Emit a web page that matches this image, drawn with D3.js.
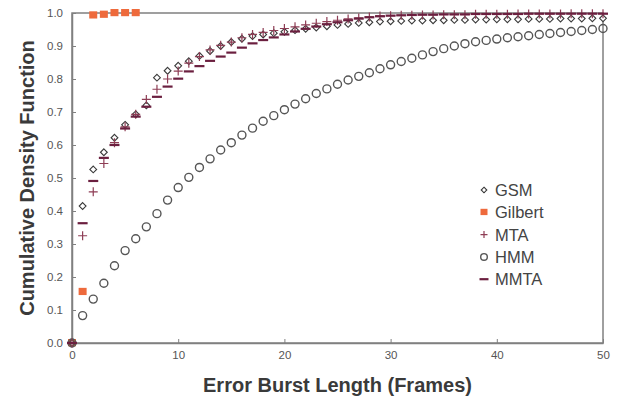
<!DOCTYPE html>
<html>
<head>
<meta charset="utf-8">
<script src="https://cdn.jsdelivr.net/npm/d3@7"></script>
<style>
  body { margin: 0; background: #fff; }
  text { font-family: "Liberation Sans", Arial, Helvetica, sans-serif; }
</style>
</head>
<body>
<svg id="chart" width="619" height="402"></svg>
<script>
const W = 619, H = 402;
const margin = { top: 13, right: 16, bottom: 59, left: 72 };

// data (x = burst length in frames)
const xTicks = [0, 10, 20, 30, 40, 50];
const yTicks = [0, 0.1, 0.2, 0.3, 0.4, 0.5, 0.6, 0.7, 0.8, 0.9, 1.0];

const gsm = [0, 0.415, 0.526, 0.578, 0.622, 0.661, 0.693, 0.720, 0.804, 0.825,
  0.840, 0.854, 0.870, 0.885, 0.900, 0.912, 0.922, 0.930, 0.935, 0.939,
  0.943, 0.948, 0.952, 0.956, 0.960, 0.964, 0.967, 0.970, 0.972, 0.974,
  0.975, 0.976, 0.977, 0.977, 0.978, 0.978, 0.979, 0.979, 0.980, 0.980,
  0.981, 0.981, 0.981, 0.982, 0.982, 0.982, 0.983, 0.983, 0.983, 0.984, 0.984];

const gilbert = [0, 0.155, 0.993, 0.995, 1.0, 1.0, 1.0];

const mta = [0, 0.325, 0.458, 0.544, 0.607, 0.655, 0.693, 0.738, 0.769, 0.800,
  0.824, 0.848, 0.868, 0.888, 0.902, 0.912, 0.925, 0.935, 0.941, 0.947,
  0.953, 0.958, 0.964, 0.969, 0.974, 0.978, 0.982, 0.985, 0.988, 0.991,
  0.992, 0.993, 0.993, 0.994, 0.994, 0.995, 0.995, 0.995, 0.996, 0.996,
  0.996, 0.996, 0.997, 0.997, 0.997, 0.997, 0.997, 0.998, 0.998, 0.998, 0.998];

const hmm = [0, 0.083, 0.133, 0.181, 0.234, 0.280, 0.316, 0.352, 0.392, 0.433,
  0.471, 0.502, 0.532, 0.558, 0.585, 0.607, 0.630, 0.651, 0.672, 0.689,
  0.707, 0.724, 0.740, 0.756, 0.770, 0.784, 0.797, 0.808, 0.819, 0.831,
  0.843, 0.853, 0.863, 0.873, 0.883, 0.892, 0.900, 0.907, 0.913, 0.917,
  0.921, 0.925, 0.928, 0.931, 0.935, 0.938, 0.941, 0.944, 0.947, 0.950, 0.953];

const mmta = [0, 0.363, 0.491, 0.561, 0.600, 0.650, 0.686, 0.716, 0.746, 0.777,
  0.801, 0.823, 0.839, 0.855, 0.868, 0.880, 0.895, 0.908, 0.918, 0.926,
  0.935, 0.944, 0.952, 0.959, 0.966, 0.972, 0.978, 0.983, 0.987, 0.990,
  0.992, 0.993, 0.994, 0.995, 0.995, 0.996, 0.996, 0.996, 0.997, 0.997,
  0.997, 0.997, 0.997, 0.998, 0.998, 0.998, 0.998, 0.998, 0.998, 0.998, 0.998];

const legendNames = ["GSM", "Gilbert", "MTA", "HMM", "MMTA"];

const C_GSM = "#3a3a3a", C_GIL = "#ee6a3c", C_MTA = "#8e3d55",
      C_HMM = "#555555", C_MMTA = "#6b1f3f", C_AXIS = "#808080";

const svg = d3.select("#chart");
const x = d3.scaleLinear().domain([0, 50]).range([margin.left, W - margin.right]);
const y = d3.scaleLinear().domain([0, 1]).range([H - margin.bottom, margin.top]);

// frame
svg.append("rect")
  .attr("x", x(0)).attr("y", y(1))
  .attr("width", x(50) - x(0)).attr("height", y(0) - y(1))
  .attr("fill", "none").attr("stroke", C_AXIS).attr("stroke-width", 1.5);

// axes, ticks pointing inward
const xAxis = svg.append("g")
  .attr("transform", `translate(0,${y(0)})`)
  .call(d3.axisBottom(x).tickValues(xTicks).tickSizeInner(-4).tickSizeOuter(0).tickPadding(8).tickFormat(d3.format("d")));
const yAxis = svg.append("g")
  .attr("transform", `translate(${x(0)},0)`)
  .call(d3.axisLeft(y).tickValues(yTicks).tickSizeInner(-4).tickSizeOuter(0).tickPadding(9).tickFormat(d3.format(".1f")));

[xAxis, yAxis].forEach(g => {
  g.select(".domain").attr("stroke", C_AXIS).attr("stroke-width", 1.5);
  g.selectAll(".tick line").attr("stroke", C_AXIS);
  g.selectAll(".tick text").attr("fill", "#555").attr("font-size", 11.5)
    .attr("font-family", "'Liberation Sans', Arial, sans-serif");
});

// axis titles
svg.append("text")
  .attr("x", (x(0) + x(50)) / 2).attr("y", 392)
  .attr("text-anchor", "middle").attr("font-size", 20).attr("font-weight", "bold")
  .attr("fill", "#3a3a3a").text("Error Burst Length (Frames)");
svg.append("text")
  .attr("transform", `translate(34,${(y(0) + y(1)) / 2}) rotate(-90)`)
  .attr("text-anchor", "middle").attr("font-size", 20).attr("font-weight", "bold")
  .attr("fill", "#3a3a3a").text("Cumulative Density Function");

// marker painters
function diamond(g, cx, cy, r) {
  g.append("path")
    .attr("d", `M${cx},${cy - r}L${cx + r},${cy}L${cx},${cy + r}L${cx - r},${cy}Z`)
    .attr("fill", "#fff").attr("stroke", C_GSM).attr("stroke-width", 1.1);
}
function square(g, cx, cy, s) {
  g.append("rect").attr("x", cx - s / 2).attr("y", cy - s / 2)
    .attr("width", s).attr("height", s * 0.9).attr("fill", C_GIL);
}
function plus(g, cx, cy, r) {
  g.append("path")
    .attr("d", `M${cx - r},${cy}H${cx + r}M${cx},${cy - r}V${cy + r}`)
    .attr("stroke", C_MTA).attr("stroke-width", 1.2).attr("fill", "none");
}
function ring(g, cx, cy, r) {
  g.append("circle").attr("cx", cx).attr("cy", cy).attr("r", r)
    .attr("fill", "none").attr("stroke", C_HMM).attr("stroke-width", 1.4);
}
function dash(g, cx, cy, r) {
  g.append("path").attr("d", `M${cx - r},${cy}H${cx + r}`)
    .attr("stroke", C_MMTA).attr("stroke-width", 2.2);
}

const marks = svg.append("g");
gilbert.forEach((v, i) => square(marks, x(i), y(v), 8));
hmm.forEach((v, i) => ring(marks, x(i), y(v), 4));
gsm.forEach((v, i) => diamond(marks, x(i), y(v), 3.4));
mta.forEach((v, i) => plus(marks, x(i), y(v), 4.5));
mmta.forEach((v, i) => dash(marks, x(i), y(v), 5));

// legend
const painters = [
  (g, cx, cy) => diamond(g, cx, cy, 2.8),
  (g, cx, cy) => square(g, cx, cy, 7),
  (g, cx, cy) => plus(g, cx, cy, 3.5),
  (g, cx, cy) => ring(g, cx, cy, 3.3),
  (g, cx, cy) => dash(g, cx, cy, 4.5)
];
const legend = svg.append("g");
legendNames.forEach((name, i) => {
  const cy = 190 + i * 22.3;
  painters[i](legend, 484, cy);
  legend.append("text").attr("x", 495).attr("y", cy).attr("dy", "0.36em")
    .attr("font-size", 16.5).attr("fill", "#444").text(name);
});
</script>
</body>
</html>
